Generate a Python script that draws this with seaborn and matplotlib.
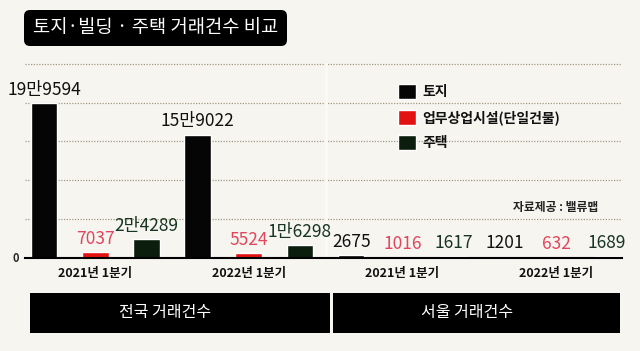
import matplotlib
matplotlib.use('Agg')
import matplotlib.pyplot as plt
import seaborn as sns
import pandas as pd
from matplotlib.patches import FancyBboxPatch, Rectangle

# ---- data ----
slots = ['전국 2021', '전국 2022', '서울 2021', '서울 2022']
quarter_labels = ['2021년 1분기', '2022년 1분기', '2021년 1분기', '2022년 1분기']
regions = ['전국 거래건수', '서울 거래건수']
types = ['토지', '업무상업시설(단일건물)', '주택']
land = [199594, 159022, 2675, 1201]
commercial = [7037, 5524, 1016, 632]
housing = [24289, 16298, 1617, 1689]
title = '토지·빌딩 · 주택 거래건수 비교'
source = '자료제공 : 밸류맵'

bar_colors = ['#050505', '#e31212', '#0b1d0d']
label_colors = ['#111111', '#e0465c', '#173520']

def fmt(v):
    return f"{v // 10000}만{v % 10000}" if v >= 10000 else str(v)

rows = []
for t, vals in zip(types, [land, commercial, housing]):
    for s, v in zip(slots, vals):
        rows.append({'slot': s, 'type': t, 'value': v})
df = pd.DataFrame(rows)

# ---- style ----
sns.set_theme(style='white')
plt.rcParams['font.family'] = ['Noto Sans CJK KR', 'DejaVu Sans']
bg = '#f6f5f0'

fig = plt.figure(figsize=(6.4, 3.51), dpi=100, facecolor=bg)
ax = fig.add_axes([25 / 640, (351 - 257.5) / 351, (622 - 25) / 640, (257.5 - 63) / 351])
ax.set_facecolor(bg)

sns.barplot(data=df, x='slot', y='value', hue='type', order=slots, hue_order=types,
            palette=dict(zip(types, bar_colors)), width=1.0, gap=0.48, saturation=1,
            errorbar=None, ax=ax, zorder=3)

ax.set_xlim(-0.457, 3.43)
ax.set_ylim(0, 251500)
ax.set_yticks([0, 50000, 100000, 150000, 200000, 250000])
ax.set_yticklabels(['0', '', '', '', '', ''])
ax.yaxis.grid(True, color='#a39882', linestyle=(0, (1, 1.2)), linewidth=0.9)
ax.xaxis.grid(False)
ax.set_axisbelow(True)
for sp in ['top', 'left', 'right']:
    ax.spines[sp].set_visible(False)
ax.spines['bottom'].set_color('black')
ax.spines['bottom'].set_linewidth(1.5)
ax.spines['bottom'].set_zorder(4)
ax.set_xlabel('')
ax.set_ylabel('')
ax.set_xticks(range(len(slots)))
ax.set_xticklabels(quarter_labels, fontsize=9, fontweight='bold', color='#111111')
ax.tick_params(axis='x', length=0, pad=7)
ax.tick_params(axis='y', length=0, pad=4, labelsize=8)
for t in ax.get_yticklabels():
    t.set_fontweight('bold')
ax.axvline(1.5, color='#fbfaf7', lw=2, zorder=1.5)

# value labels
for cont, vals, col in zip(ax.containers, [land, commercial, housing], label_colors):
    w = 'light' if col == label_colors[1] else 'medium'
    ax.bar_label(cont, labels=[fmt(v) for v in vals], padding=3, fontsize=12.5,
                 color=col, fontweight=w)

# legend
sns.move_legend(ax, 'upper left', bbox_to_anchor=(398 / 640, 1 - 84 / 351),
                bbox_transform=fig.transFigure, frameon=False, title=None,
                borderpad=0, borderaxespad=0, handlelength=1.3, handleheight=1.3,
                handletextpad=0.45, labelspacing=0.75, fontsize=10)
for t in ax.get_legend().get_texts():
    t.set_fontweight('bold')
    t.set_color('#111111')

fig.text(598 / 640, 1 - 208 / 351, source, ha='right', va='center', fontsize=8.5,
         fontweight='bold', color='#222222')

# title box
fig.add_artist(FancyBboxPatch((0.24, (351 - 46) / 100), 2.63, 0.36,
                              boxstyle='round,pad=0,rounding_size=0.06',
                              transform=fig.dpi_scale_trans, fc='black', ec='none'))
fig.text(155.5 / 640, 1 - 28 / 351, title, ha='center', va='center', fontsize=13.5,
         color='white', fontweight='medium')

# region boxes
fig.add_artist(Rectangle((0.30, 0.18), 3.00, 0.40, transform=fig.dpi_scale_trans,
                         fc='black', ec='none'))
fig.add_artist(Rectangle((3.33, 0.18), 2.87, 0.40, transform=fig.dpi_scale_trans,
                         fc='black', ec='none'))
fig.text(165 / 640, 1 - 313 / 351, regions[0], ha='center', va='center',
         fontsize=11.5, color='white')
fig.text(467 / 640, 1 - 313 / 351, regions[1], ha='center', va='center',
         fontsize=11.5, color='white')

fig.savefig('out.png', dpi=100, facecolor=bg)
